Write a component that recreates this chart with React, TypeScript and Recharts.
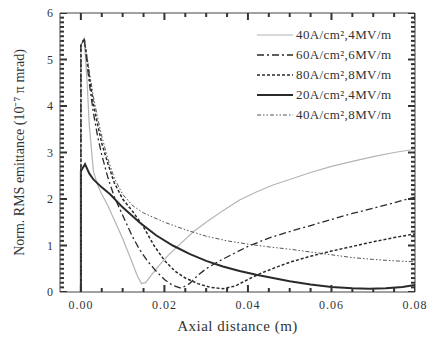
import React from 'react';
import { ComposedChart, Line, Scatter, XAxis, YAxis, ReferenceLine } from 'recharts';

// ── Fuente y colores ─────────────────────────────────────────────────────────
const FONT = '"Liberation Serif", "Times New Roman", serif';
const AXIS_COLOR = '#444';
const TICK_COLOR = '#333';
const TEXT_COLOR = '#333';

// Ejes
const X_DOMAIN: [number, number] = [-0.005, 0.08];
const Y_DOMAIN: [number, number] = [0, 6];
const X_MAJOR = [0, 0.02, 0.04, 0.06, 0.08];
const X_LABELS = ['0.00', '0.02', '0.04', '0.06', '0.08'];
const Y_MAJOR = [0, 1, 2, 3, 4, 5, 6];
const Y_LABELS = ['0', '1', '2', '3', '4', '5', '6'];
const X_MINOR = Array.from({ length: 17 }, (_, i) => +(i * 0.005).toFixed(3));
const Y_MINOR = Array.from({ length: 61 }, (_, i) => +(i * 0.1).toFixed(1));

// ── Series (x en m, y en 10^-7 π mrad) ───────────────────────────────────────
const gray40_4 = [
  [0, 0], [0, 5.3], [0.0008, 5.45], [0.0015, 4.5], [0.002, 3.6], [0.003, 2.6],
  [0.004, 2.3], [0.005, 2.1], [0.0065, 1.85], [0.008, 1.55], [0.01, 1.15],
  [0.012, 0.7], [0.0135, 0.35], [0.0145, 0.18], [0.0155, 0.2], [0.017, 0.38],
  [0.019, 0.6], [0.021, 0.8], [0.024, 1.05], [0.027, 1.3], [0.03, 1.5],
  [0.034, 1.75], [0.038, 1.98], [0.042, 2.15], [0.046, 2.3], [0.05, 2.42],
  [0.055, 2.57], [0.06, 2.7], [0.065, 2.81], [0.07, 2.91], [0.075, 3.0], [0.08, 3.07],
];
const dashDot60_6 = [
  [0, 0], [0, 5.3], [0.0008, 5.45], [0.0015, 4.9], [0.002, 4.5], [0.003, 3.85],
  [0.004, 3.35], [0.005, 2.95], [0.0065, 2.45], [0.008, 2.05], [0.01, 1.65],
  [0.0122, 1.22], [0.014, 0.92], [0.016, 0.66], [0.018, 0.45], [0.02, 0.27],
  [0.022, 0.14], [0.024, 0.08], [0.026, 0.18], [0.028, 0.36], [0.03, 0.5],
  [0.033, 0.66], [0.036, 0.8], [0.04, 0.98], [0.045, 1.16], [0.05, 1.3],
  [0.055, 1.43], [0.06, 1.56], [0.065, 1.69], [0.07, 1.8], [0.075, 1.92], [0.08, 2.04],
];
const dotted80_8 = [
  [0, 0], [0, 5.3], [0.0008, 5.45], [0.0015, 5.0], [0.002, 4.65], [0.003, 4.05],
  [0.004, 3.6], [0.005, 3.2], [0.0065, 2.75], [0.008, 2.35], [0.01, 2.0],
  [0.0125, 1.72], [0.015, 1.4], [0.0175, 1.0], [0.02, 0.68], [0.0225, 0.45],
  [0.025, 0.3], [0.028, 0.18], [0.031, 0.1], [0.034, 0.07], [0.037, 0.13],
  [0.04, 0.27], [0.043, 0.4], [0.047, 0.54], [0.05, 0.64], [0.055, 0.77],
  [0.06, 0.88], [0.065, 0.98], [0.07, 1.08], [0.075, 1.17], [0.08, 1.25],
];
const solid20_4 = [
  [0, 0], [0, 2.6], [0.001, 2.75], [0.002, 2.55], [0.003, 2.42], [0.005, 2.25],
  [0.007, 2.1], [0.01, 1.82], [0.014, 1.5], [0.018, 1.22], [0.022, 1.0],
  [0.026, 0.82], [0.03, 0.67], [0.034, 0.55], [0.038, 0.45], [0.042, 0.37],
  [0.046, 0.3], [0.05, 0.23], [0.055, 0.16], [0.06, 0.11], [0.065, 0.08],
  [0.069, 0.07], [0.073, 0.08], [0.077, 0.11], [0.08, 0.15],
];
const dashDotDot40_8 = [
  [0, 0], [0, 5.3], [0.0008, 5.45], [0.0015, 5.05], [0.002, 4.75], [0.003, 4.2],
  [0.004, 3.75], [0.005, 3.35], [0.0065, 2.85], [0.008, 2.45], [0.01, 2.1],
  [0.0125, 1.85], [0.015, 1.7], [0.02, 1.5], [0.025, 1.34], [0.03, 1.2],
  [0.035, 1.1], [0.04, 1.03], [0.045, 0.97], [0.05, 0.92], [0.055, 0.86],
  [0.06, 0.8], [0.065, 0.74], [0.07, 0.7], [0.075, 0.67], [0.08, 0.65],
];

const toPts = (arr: number[][]) => arr.map(([x, y]) => ({ x, y }));

const SERIES = [
  { name: '40A/cm²,4MV/m', data: gray40_4, color: '#b4b4b4', width: 1.2, dash: undefined },
  { name: '60A/cm²,6MV/m', data: dashDot60_6, color: '#2a2a2a', width: 1.3, dash: '7 3 2 3' },
  { name: '80A/cm²,8MV/m', data: dotted80_8, color: '#2a2a2a', width: 1.5, dash: '3 2' },
  { name: '20A/cm²,4MV/m', data: solid20_4, color: '#2a2a2a', width: 2, dash: undefined },
  { name: '40A/cm²,8MV/m', data: dashDotDot40_8, color: '#555', width: 1, dash: '4 2 1.5 2 1.5 2' },
];

const isIn = (v: number, list: number[]) => list.some(m => Math.abs(m - v) < 1e-9);

// puntos de marca: cada uno dibuja una rayita hacia dentro del área
const xTickPts = (yEdge: number) => X_MINOR.map(v => ({ x: v, y: yEdge, major: isIn(v, X_MAJOR) }));
const yTickPts = (xEdge: number) => Y_MINOR.map(v => ({ x: xEdge, y: v, major: isIn(v, Y_MAJOR) }));

const tickShape = (dir: 'up' | 'down' | 'right' | 'left') => (p: any) => {
  const len = p.payload?.major ? 7 : 4;
  const { cx, cy } = p;
  const dx = dir === 'right' ? len : dir === 'left' ? -len : 0;
  const dy = dir === 'down' ? len : dir === 'up' ? -len : 0;
  return <line x1={cx} y1={cy} x2={cx + dx} y2={cy + dy} stroke={TICK_COLOR} strokeWidth={2} />;
};

// ── Etiquetas de los ejes ────────────────────────────────────────────────────
const BottomLabel = (props: any) => {
  const { x, y, payload } = props;
  const idx = X_MAJOR.findIndex(m => Math.abs(m - payload.value) < 1e-9);
  return (
    <text x={x} y={y + 17} textAnchor="middle" fontSize={12} letterSpacing={1}
      fontFamily={FONT} fill={TEXT_COLOR}>{X_LABELS[idx]}</text>
  );
};
const LeftLabel = (props: any) => {
  const { x, y, payload } = props;
  const idx = Y_MAJOR.findIndex(m => Math.abs(m - payload.value) < 1e-9);
  return (
    <text x={x - 7} y={y + 4} textAnchor="end" fontSize={12}
      fontFamily={FONT} fill={TEXT_COLOR}>{Y_LABELS[idx]}</text>
  );
};

// ── Leyenda ──────────────────────────────────────────────────────────────────
const LegendBox = () => (
  <svg width={175} height={110} style={{ position: 'absolute', left: 250, top: 24 }}>
    {SERIES.map((s, i) => (
      <g key={s.name}>
        <line x1={7} x2={43} y1={11 + i * 20} y2={11 + i * 20}
          stroke={s.color} strokeWidth={s.width} strokeDasharray={s.dash} />
        <text x={46} y={15 + i * 20} fontSize={13} fontFamily={FONT} fill={TEXT_COLOR}
          letterSpacing={0.4}>
          {s.name}
        </text>
      </g>
    ))}
  </svg>
);

export default function App() {
  const [x0, x1] = X_DOMAIN;
  const [y0, y1] = Y_DOMAIN;

  return (
    <div style={{ position: 'absolute', left: 0, top: 0, width: 430, height: 342, background: '#fff' }}>
      <ComposedChart width={430} height={342} margin={{ top: 13, right: 15, bottom: 0, left: 0 }}>
        <XAxis dataKey="x" type="number" domain={X_DOMAIN} allowDataOverflow ticks={X_MAJOR}
          interval={0} tickSize={0} tickMargin={0} tick={<BottomLabel />} tickLine={false}
          axisLine={{ stroke: AXIS_COLOR }} height={50} />
        <YAxis type="number" domain={Y_DOMAIN} allowDataOverflow ticks={Y_MAJOR} interval={0}
          tickSize={0} tickMargin={0} tick={<LeftLabel />} tickLine={false}
          axisLine={{ stroke: AXIS_COLOR }} width={60}
          label={{
            value: 'Norm. RMS emittance (10⁻⁷ π mrad)', angle: -90, position: 'insideLeft',
            dx: 14, style: { fontSize: 14, fontFamily: FONT, fill: TEXT_COLOR, textAnchor: 'middle' },
          }} />

        {/* marco superior y derecho */}
        <ReferenceLine y={y1} stroke={AXIS_COLOR} ifOverflow="visible" />
        <ReferenceLine x={x1} stroke={AXIS_COLOR} ifOverflow="visible" />

        {/* marcas hacia dentro en los cuatro lados */}
        <Scatter data={xTickPts(y0)} dataKey="y" shape={tickShape('up')} isAnimationActive={false} />
        <Scatter data={xTickPts(y1)} dataKey="y" shape={tickShape('down')} isAnimationActive={false} />
        <Scatter data={yTickPts(x0)} dataKey="y" shape={tickShape('right')} isAnimationActive={false} />
        <Scatter data={yTickPts(x1)} dataKey="y" shape={tickShape('left')} isAnimationActive={false} />

        {SERIES.map(s => (
          <Line key={s.name} data={toPts(s.data)} dataKey="y" name={s.name} type="linear"
            stroke={s.color} strokeWidth={s.width} strokeDasharray={s.dash}
            dot={false} activeDot={false} isAnimationActive={false} />
        ))}
      </ComposedChart>
      <div style={{
        position: 'absolute', left: 60, width: 355, top: 318, textAlign: 'center',
        fontFamily: FONT, fontSize: 15, color: TEXT_COLOR, letterSpacing: 0.5,
      }}>
        Axial distance (m)
      </div>
      <LegendBox />
    </div>
  );
}
